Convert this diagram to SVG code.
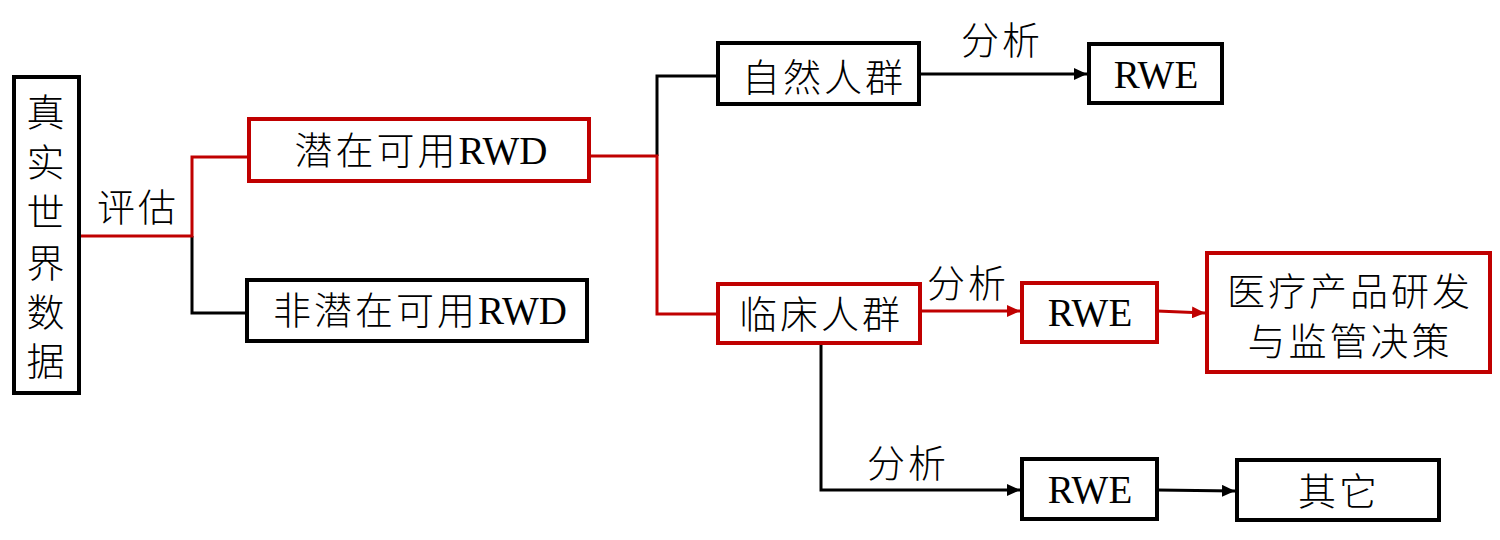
<svg xmlns="http://www.w3.org/2000/svg" width="1500" height="540" viewBox="0 0 1500 540">
<style>
.b{fill:#fff;stroke:#000;stroke-width:4}
.r{fill:#fff;stroke:#C00000;stroke-width:4}
.t{font-family:"Liberation Serif","Noto Sans CJK SC",serif;font-size:38px;font-weight:300;fill:#000;text-anchor:middle;letter-spacing:3px}
.e{letter-spacing:0px;font-size:39px}
.lk{fill:none;stroke:#000;stroke-width:3}
.lr{fill:none;stroke:#C00000;stroke-width:3}
</style>
<defs>
<marker id="ak" markerUnits="userSpaceOnUse" markerWidth="13" markerHeight="12" refX="13" refY="6" orient="auto"><path d="M0,0 L13,6 L0,12 z" fill="#000"/></marker>
<marker id="ar" markerUnits="userSpaceOnUse" markerWidth="13" markerHeight="12" refX="13" refY="6" orient="auto"><path d="M0,0 L13,6 L0,12 z" fill="#C00000"/></marker>
</defs>
<rect width="1500" height="540" fill="#fff"/>
<g id="connectors">
<polyline class="lk" points="192,236 192,313 247,313"/>
<polyline class="lr" points="79,236 192,236 192,157 249,157"/>
<polyline class="lk" points="657,156 657,76 718,76"/>
<polyline class="lr" points="589,156 657,156 657,314 718,314"/>
<line class="lk" x1="920" y1="74" x2="1087" y2="74" marker-end="url(#ak)"/>
<line class="lr" x1="920" y1="311" x2="1020" y2="311" marker-end="url(#ar)"/>
<line class="lr" x1="1157" y1="311" x2="1205" y2="313" marker-end="url(#ar)"/>
<polyline class="lk" points="821,343 821,490 1020,490" marker-end="url(#ak)"/>
<line class="lk" x1="1157" y1="490" x2="1235" y2="491" marker-end="url(#ak)"/>
<text class="t" x="138" y="221">评估</text>
<text class="t" x="1002" y="54">分析</text>
<text class="t" x="968" y="297">分析</text>
<text class="t" x="908" y="477">分析</text>
</g>
<g id="n-rwd-all">
<rect class="b" x="14" y="77" width="65" height="316"/>
<text class="t" x="47" y="126">真</text>
<text class="t" x="47" y="176">实</text>
<text class="t" x="47" y="226">世</text>
<text class="t" x="47" y="277">界</text>
<text class="t" x="47" y="326">数</text>
<text class="t" x="47" y="375">据</text>
</g>
<g id="n-potential">
<rect class="r" x="249" y="119" width="340" height="62"/>
<text class="t" x="421" y="164">潜在可用<tspan class="e">RWD</tspan></text>
</g>
<g id="n-nonpotential">
<rect class="b" x="247" y="280" width="340" height="61"/>
<text class="t" x="420" y="324">非潜在可用<tspan class="e">RWD</tspan></text>
</g>
<g id="n-natural">
<rect class="b" x="718" y="43" width="201" height="61"/>
<text class="t" x="824" y="91">自然人群</text>
</g>
<g id="n-rwe1">
<rect class="b" x="1089" y="44" width="133" height="59"/>
<text class="t e" x="1156" y="88">RWE</text>
</g>
<g id="n-clinical">
<rect class="r" x="718" y="284" width="202" height="59"/>
<text class="t" x="821" y="328">临床人群</text>
</g>
<g id="n-rwe2">
<rect class="r" x="1022" y="283" width="135" height="59"/>
<text class="t e" x="1090" y="326">RWE</text>
</g>
<g id="n-decision">
<rect class="r" x="1207" y="253" width="283" height="119"/>
<text class="t" x="1350" y="305">医疗产品研发</text>
<text class="t" x="1350" y="355">与监管决策</text>
</g>
<g id="n-rwe3">
<rect class="b" x="1022" y="459" width="135" height="60"/>
<text class="t e" x="1090" y="503">RWE</text>
</g>
<g id="n-other">
<rect class="b" x="1237" y="460" width="202" height="60"/>
<text class="t" x="1339" y="505">其它</text>
</g>
</svg>
